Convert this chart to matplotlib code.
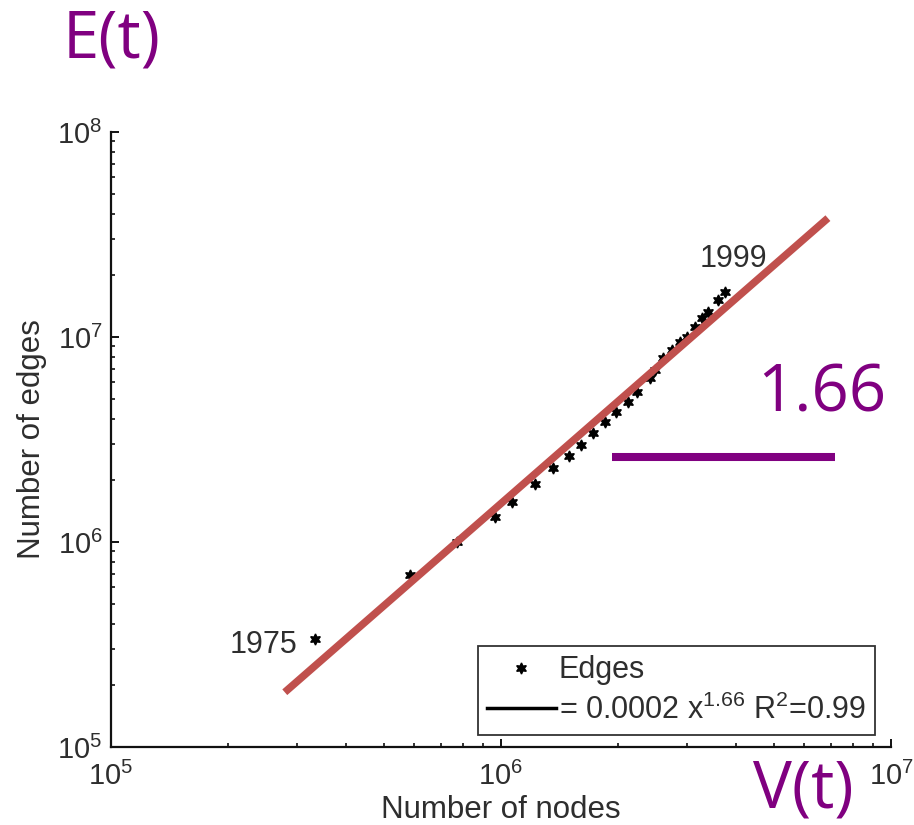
import matplotlib
matplotlib.use("Agg")
import matplotlib.pyplot as plt
from matplotlib.lines import Line2D
from matplotlib.ticker import LogLocator, FixedLocator, NullFormatter

# ---- data ----
nodes = [3.34e5, 5.85e5, 7.7e5, 9.67e5, 1.07e6, 1.22e6, 1.36e6, 1.49e6, 1.6e6,
         1.72e6, 1.85e6, 1.97e6, 2.12e6, 2.23e6, 2.41e6, 2.48e6, 2.6e6, 2.74e6,
         2.88e6, 3.0e6, 3.14e6, 3.27e6, 3.4e6, 3.6e6, 3.75e6]
edges = [3.36e5, 6.9e5, 1.0e6, 1.32e6, 1.57e6, 1.92e6, 2.30e6, 2.63e6, 2.97e6,
         3.4e6, 3.85e6, 4.3e6, 4.82e6, 5.4e6, 6.3e6, 6.9e6, 7.9e6, 8.65e6,
         9.5e6, 1.0e7, 1.12e7, 1.24e7, 1.33e7, 1.51e7, 1.66e7]
fit_x = [2.79e5, 6.89e6]
fit_y = [1.85e5, 3.8e7]
slope_x = [1.93e6, 7.18e6]
slope_y = [2.6e6, 2.6e6]
x_ticks = [1e5, 1e6, 1e7]
y_ticks = [1e5, 1e6, 1e7, 1e8]
x_tick_labels = [r"$10^{5}$", r"$10^{6}$", r"$10^{7}$"]
y_tick_labels = [r"$10^{5}$", r"$10^{6}$", r"$10^{7}$", r"$10^{8}$"]
legend_labels = ["Edges", r"= 0.0002 x$^{1.66}$ R$^{2}$=0.99"]
year_labels = ["1975", "1999"]
slope_text = "1.66"

plt.rcParams['font.family'] = ['Liberation Sans', 'DejaVu Sans']
plt.rcParams['mathtext.fontset'] = 'custom'
plt.rcParams['mathtext.rm'] = 'Liberation Sans'
plt.rcParams['mathtext.it'] = 'Liberation Sans'
plt.rcParams['mathtext.default'] = 'regular'

GREY = '#2e2e2e'
RED = '#C0504D'
PURPLE = '#800080'

fig = plt.figure(figsize=(9.14, 8.25), dpi=100)
ax = fig.add_axes([111/914, 1-747/825, 780/914, 615/825])
ax.set_xscale('log')
ax.set_yscale('log')
ax.set_xlim(1e5, 1e7)
ax.set_ylim(1e5, 1e8)

ax.plot(nodes, edges, linestyle='none', marker=(6, 1, 0), markersize=8,
        color='black', zorder=3)
ax.plot(fit_x, fit_y, color=RED, lw=5.4, solid_capstyle='butt', zorder=4)
ax.plot(slope_x, slope_y, color=PURPLE, lw=5.8, solid_capstyle='butt', zorder=4,
        clip_on=False)

for s in ['top', 'right']:
    ax.spines[s].set_visible(False)
for s in ['left', 'bottom']:
    ax.spines[s].set_linewidth(1.6)
    ax.spines[s].set_color('#111111')

ax.xaxis.set_major_locator(FixedLocator(x_ticks))
ax.yaxis.set_major_locator(FixedLocator(y_ticks))
ax.set_xticklabels(x_tick_labels)
ax.set_yticklabels(y_tick_labels)
ax.xaxis.set_minor_locator(LogLocator(base=10, subs=range(2, 10)))
ax.yaxis.set_minor_locator(LogLocator(base=10, subs=range(2, 10)))
ax.xaxis.set_minor_formatter(NullFormatter())
ax.yaxis.set_minor_formatter(NullFormatter())
ax.tick_params(which='major', direction='in', length=6, width=1.4, color='#111111',
               labelsize=21, labelcolor=GREY)
ax.tick_params(which='minor', direction='in', length=3, width=1.2, color='#111111')
ax.tick_params(axis='x', which='major', pad=11)
ax.tick_params(axis='y', which='major', pad=6)

ax.set_xlabel("Number of nodes", fontsize=22.5, color=GREY)
ax.set_ylabel("Number of edges", fontsize=22.5, color=GREY)
ax.xaxis.set_label_coords(0.5, -(795 - 747) / 615)
ax.yaxis.set_label_coords((47 - 111) / 780, 0.5)

# year annotations
ax.annotate(year_labels[0], xy=(nodes[0], edges[0]), xytext=(-13, -4),
            textcoords='offset points', ha='right', va='center',
            fontsize=22, color=GREY)
ax.annotate(year_labels[1], xy=(nodes[-1], edges[-1]), xytext=(-18, 24),
            textcoords='offset points', ha='left', va='center',
            fontsize=22, color=GREY)

handles = [Line2D([], [], linestyle='none', marker=(6, 1, 0), markersize=8, color='black'),
           Line2D([], [], color='black', lw=2.5)]
leg = ax.legend(handles, legend_labels, loc='lower right',
                bbox_to_anchor=(875/914, 1-735/825), bbox_transform=fig.transFigure,
                fontsize=22, frameon=True, fancybox=False, edgecolor='black',
                handlelength=2.25, handletextpad=0.1, borderpad=0.3,
                labelspacing=0.3, borderaxespad=0)
leg.get_frame().set_linewidth(1.3)
for t in leg.get_texts():
    t.set_color(GREY)

# purple overlay texts
fig.text(63/914, 1-57/825, "E(t)", fontsize=47, color=PURPLE, family='Open Sans',
         ha='left', va='baseline')
fig.text(753/914, 1-808/825, "V(t)", fontsize=47, color=PURPLE, family='Open Sans',
         ha='left', va='baseline')
fig.text(757/914, 1-412/825, slope_text, fontsize=47, color=PURPLE, family='Open Sans',
         ha='left', va='baseline')

fig.savefig("out.png", dpi=100)
